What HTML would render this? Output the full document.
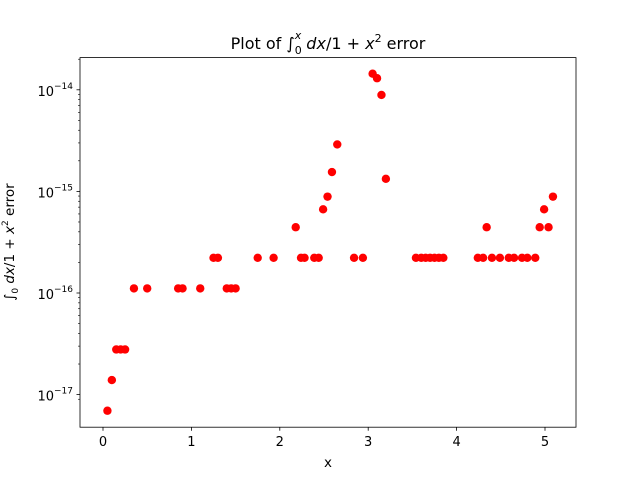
<!DOCTYPE html>
<html><head><meta charset="utf-8"><style>
body{margin:0;background:#fff;font-family:"DejaVu Sans","Liberation Sans",sans-serif;}
svg text{font-family:"DejaVu Sans","Liberation Sans",sans-serif;fill:#000;}
</style></head><body>
<svg id="chart" width="640" height="480" xmlns="http://www.w3.org/2000/svg">
<rect width="640" height="480" fill="#fff"/>
<g id="marks"></g>
<rect x="80" y="57.6" width="496" height="369.6" fill="none" stroke="#000" stroke-width="0.8"/>
<g id="axes"></g>
<text x="328" y="49" font-size="16" text-anchor="middle">Plot of ∫<tspan font-size="11" dy="5">0</tspan><tspan font-size="11" font-style="italic" dy="-15" dx="-7">x</tspan><tspan dy="10" font-style="italic"> dx</tspan>/1 + <tspan font-style="italic">x</tspan><tspan font-size="11" dy="-7">2</tspan><tspan dy="7"> error</tspan></text>
<text x="328" y="467" font-size="13.5" text-anchor="middle">x</text>
<text transform="translate(14,242) rotate(-90)" font-size="13.5" text-anchor="middle">∫<tspan font-size="9" dy="4">0</tspan><tspan font-style="italic" dy="-4"> dx</tspan>/1 + <tspan font-style="italic">x</tspan><tspan font-size="9" dy="-6">2</tspan><tspan dy="6"> error</tspan></text>
</svg>
<script>
const xs=[0.05,0.1,0.15,0.2,0.25,0.35,0.5,0.85,0.9,1.1,1.25,1.3,1.4,1.45,1.5,1.75,1.93,2.18,2.24,2.28,2.39,2.44,2.49,2.54,2.59,2.65,2.84,2.94,3.05,3.1,3.15,3.2,3.54,3.6,3.65,3.7,3.75,3.8,3.85,4.24,4.3,4.34,4.4,4.49,4.59,4.65,4.74,4.8,4.89,4.94,4.99,5.04,5.09];
const ys=[6.94e-18,1.39e-17,2.78e-17,2.78e-17,2.78e-17,1.11e-16,1.11e-16,1.11e-16,1.11e-16,1.11e-16,2.22e-16,2.22e-16,1.11e-16,1.11e-16,1.11e-16,2.22e-16,2.22e-16,4.44e-16,2.22e-16,2.22e-16,2.22e-16,2.22e-16,6.66e-16,8.88e-16,1.55e-15,2.9e-15,2.22e-16,2.22e-16,1.44e-14,1.3e-14,8.9e-15,1.33e-15,2.22e-16,2.22e-16,2.22e-16,2.22e-16,2.22e-16,2.22e-16,2.22e-16,2.22e-16,2.22e-16,4.44e-16,2.22e-16,2.22e-16,2.22e-16,2.22e-16,2.22e-16,2.22e-16,2.22e-16,4.44e-16,6.66e-16,4.44e-16,8.88e-16];
const xTicks=[0,1,2,3,4,5];
const yTicks=[-17,-16,-15,-14];
const NS="http://www.w3.org/2000/svg";
function X(v){return 103+v*88.4;}
function Y(v){return 293-(Math.log10(v)+16)*101.6;}
const m=document.getElementById('marks'),a=document.getElementById('axes');
function el(t,at,p){const e=document.createElementNS(NS,t);for(const k in at)e.setAttribute(k,at[k]);p.appendChild(e);return e;}
xs.forEach((x,i)=>{const c=el('circle',{cx:X(x),cy:Y(ys[i]),r:4.2,fill:'#ff0000'},m);

});
xTicks.forEach(t=>{el('line',{x1:X(t),x2:X(t),y1:427.2,y2:430.7,stroke:'#000','stroke-width':0.8},a);
const tx=el('text',{x:X(t),y:446,'font-size':13,'text-anchor':'middle'},a);tx.textContent=t;

});
yTicks.forEach(p=>{const y=Y(Math.pow(10,p));el('line',{x1:76.5,x2:80,y1:y,y2:y,stroke:'#000','stroke-width':0.8},a);
for(let k=2;k<10;k++){const yy=Y(k*Math.pow(10,p));if(yy>57.6&&yy<427.2)el('line',{x1:78,x2:80,y1:yy,y2:yy,stroke:'#000','stroke-width':0.6},a);}
const tx=el('text',{x:73,y:y+6,'font-size':13,'text-anchor':'end'},a);tx.innerHTML='10<tspan font-size="9" dy="-7">−'+(-p)+'</tspan>';

});
{const yy=Y(9e-18);el('line',{x1:78,x2:80,y1:yy,y2:yy,stroke:'#000','stroke-width':0.6},a);}
</script>
</body></html>
